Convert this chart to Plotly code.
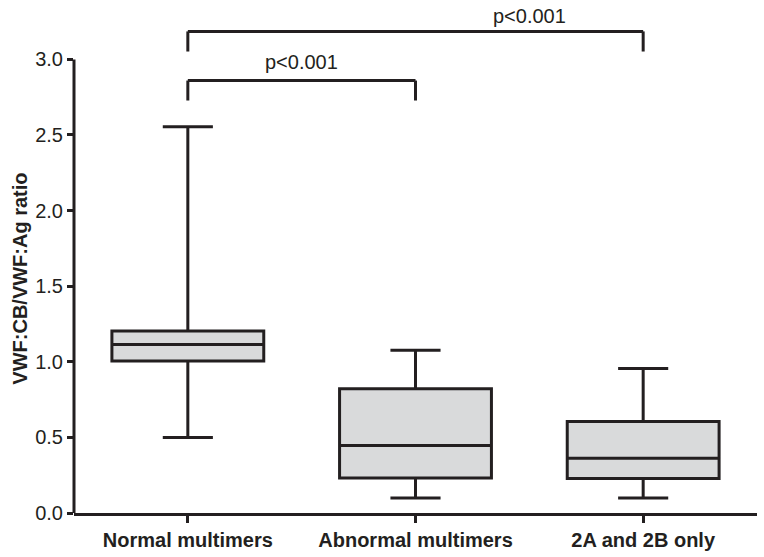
import plotly.graph_objects as go

categories = ["Normal multimers", "Abnormal multimers", "2A and 2B only"]
lower_whisker = [0.50, 0.10, 0.10]
q1_values = [1.005, 0.231, 0.228]
median_values = [1.115, 0.447, 0.362]
q3_values = [1.203, 0.822, 0.605]
upper_whisker = [2.555, 1.077, 0.956]

y_ticks = [0.0, 0.5, 1.0, 1.5, 2.0, 2.5, 3.0]
y_tick_labels = ["0.0", "0.5", "1.0", "1.5", "2.0", "2.5", "3.0"]

# significance brackets: (from category index, to category index, bar level, drop level,
#                         label, label x position (category units), label level)
brackets = [
    (0, 1, 2.860, 2.728, "p<0.001", 0.5, 2.985),
    (0, 2, 3.185, 3.052, "p<0.001", 1.5, 3.285),
]

INK = "#231f20"
FILL = "#d9dadb"
FONT = "Liberation Sans, Arial, sans-serif"

fig = go.Figure()
fig.add_trace(go.Box(
    x=categories,
    q1=q1_values,
    median=median_values,
    q3=q3_values,
    lowerfence=lower_whisker,
    upperfence=upper_whisker,
    boxpoints=False,
    width=0.667,
    whiskerwidth=0.33,
    fillcolor=FILL,
    line=dict(color=INK, width=3),
    hoverinfo="skip",
    showlegend=False,
))

shapes = []
annotations = []
for a, b, level, drop, label, tx, ty in brackets:
    shapes.append(dict(type="line", xref="x", yref="y", x0=a, x1=b, y0=level, y1=level,
                       line=dict(color=INK, width=3)))
    shapes.append(dict(type="line", xref="x", yref="y", x0=a, x1=a, y0=drop, y1=level,
                       line=dict(color=INK, width=3)))
    shapes.append(dict(type="line", xref="x", yref="y", x0=b, x1=b, y0=drop, y1=level,
                       line=dict(color=INK, width=3)))
    annotations.append(dict(x=tx, y=ty, xref="x", yref="y", text=label,
                            showarrow=False, xanchor="center", yanchor="middle",
                            font=dict(family=FONT, size=20, color=INK)))

# y axis line only from 0 to 3.0
shapes.append(dict(type="line", xref="paper", yref="y", x0=0, x1=0, y0=0, y1=y_ticks[-1],
                   line=dict(color=INK, width=3), layer="above"))

annotations.append(dict(x=0, y=1.55, xref="paper", yref="y", text="<b>VWF:CB/VWF:Ag ratio</b>",
                        textangle=-90, showarrow=False, xanchor="center", yanchor="middle",
                        xshift=-54, font=dict(family=FONT, size=20, color=INK)))

fig.update_layout(
    width=764, height=557,
    margin=dict(l=74, r=7, t=11, b=44),
    paper_bgcolor="white", plot_bgcolor="white",
    shapes=shapes, annotations=annotations,
    font=dict(family=FONT, color=INK),
    hovermode=False,
    xaxis=dict(
        type="category", range=[-0.5, 2.5], automargin=False,
        showline=True, linecolor=INK, linewidth=3,
        ticks="outside", ticklen=7, tickwidth=2.5, tickcolor=INK,
        tickfont=dict(family=FONT, size=20, color=INK),
        tickvals=categories,
        ticktext=["<b>" + c + "</b>" for c in categories],
        showgrid=False, zeroline=False,
    ),
    yaxis=dict(
        range=[0, 3.32], automargin=False,
        showline=False, showgrid=False, zeroline=False,
        tickvals=y_ticks, ticktext=y_tick_labels,
        ticks="outside", ticklen=6, tickwidth=2.5, tickcolor=INK,
        tickfont=dict(family=FONT, size=20, color=INK),
    ),
)

# remove the browser's default 8px page margin so the figure fills the window exactly
fig.write_html("out.html", config={"displayModeBar": False},
               post_script="document.body.style.margin='0';")
